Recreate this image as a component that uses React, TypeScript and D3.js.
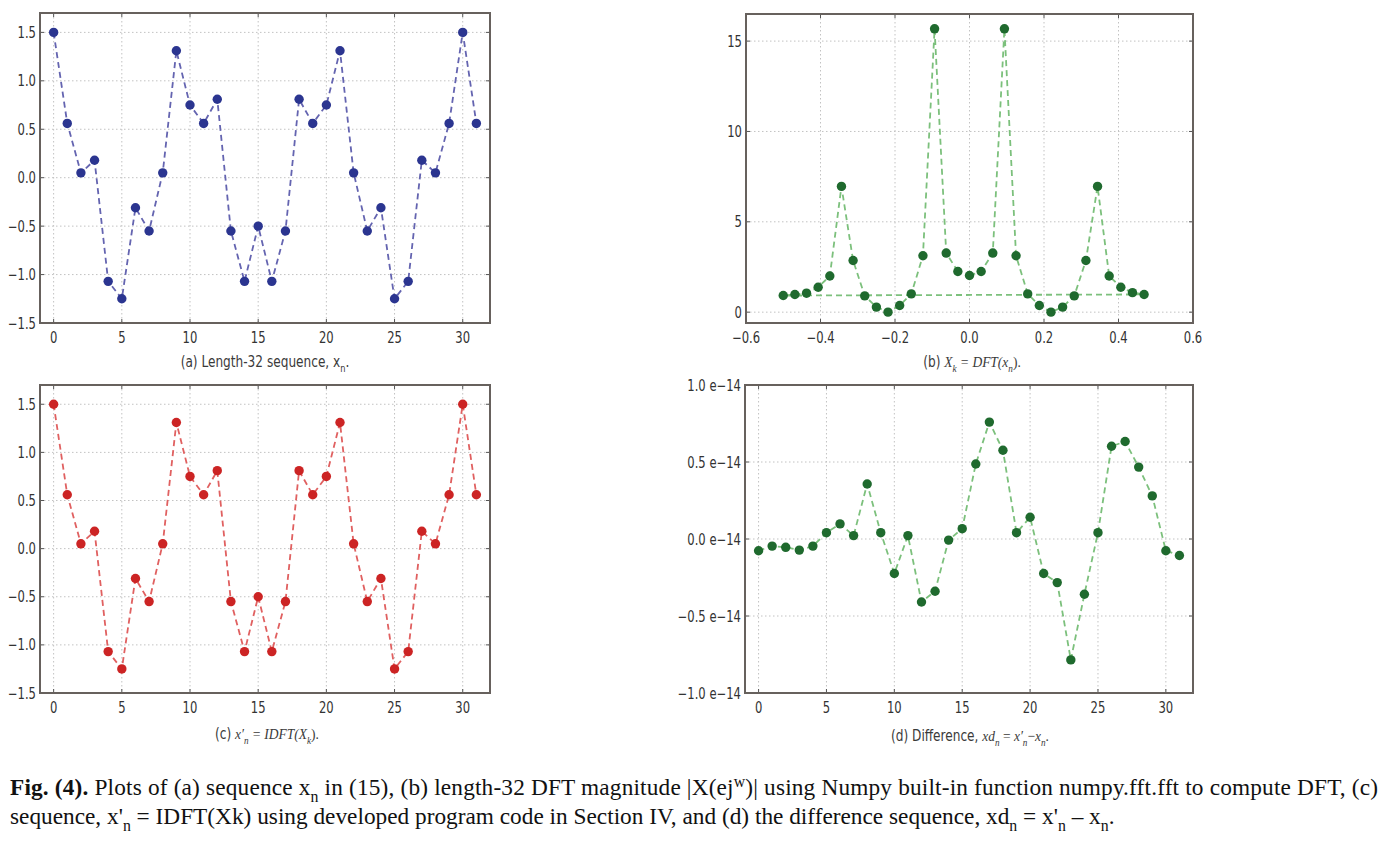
import React, { useEffect, useRef } from "react";
import * as d3 from "d3";

// sample index n
const nIndex = [0, 1, 2, 3, 4, 5, 6, 7, 8, 9, 10, 11, 12, 13, 14, 15, 16, 17, 18, 19, 20, 21, 22, 23, 24, 25, 26, 27, 28, 29, 30, 31];

// (a) x_n
const xSeq = [1.5, 0.56, 0.05, 0.18, -1.07, -1.25, -0.31, -0.55, 0.05, 1.31, 0.75, 0.56, 0.81, -0.55, -1.07, -0.5, -1.07, -0.55, 0.81, 0.56, 0.75, 1.31, 0.05, -0.55, -0.31, -1.25, -1.07, 0.18, 0.05, 0.56, 1.5, 0.56];

// (b) frequencies in fftfreq order and |X_k|
const dftFreq = [0, 0.03125, 0.0625, 0.09375, 0.125, 0.15625, 0.1875, 0.21875, 0.25, 0.28125, 0.3125, 0.34375, 0.375, 0.40625, 0.4375, 0.46875, -0.5, -0.46875, -0.4375, -0.40625, -0.375, -0.34375, -0.3125, -0.28125, -0.25, -0.21875, -0.1875, -0.15625, -0.125, -0.09375, -0.0625, -0.03125];
const dftMag = [2.03, 2.25, 3.27, 15.68, 3.12, 1.01, 0.37, 0.0, 0.28, 0.9, 2.86, 6.96, 2.0, 1.38, 1.08, 0.98, 0.92, 0.98, 1.05, 1.38, 2.0, 6.96, 2.86, 0.9, 0.28, 0.0, 0.37, 1.01, 3.12, 15.68, 3.27, 2.25];

// (c) x'_n = IDFT(X_k)
const xRec = [1.5, 0.56, 0.05, 0.18, -1.07, -1.25, -0.31, -0.55, 0.05, 1.31, 0.75, 0.56, 0.81, -0.55, -1.07, -0.5, -1.07, -0.55, 0.81, 0.56, 0.75, 1.31, 0.05, -0.55, -0.31, -1.25, -1.07, 0.18, 0.05, 0.56, 1.5, 0.56];

// (d) difference xd_n (x 1e-14)
const xDiff = [-0.076, -0.046, -0.054, -0.072, -0.046, 0.041, 0.098, 0.022, 0.357, 0.041, -0.224, 0.022, -0.409, -0.339, -0.007, 0.067, 0.487, 0.759, 0.576, 0.041, 0.141, -0.224, -0.283, -0.785, -0.359, 0.041, 0.602, 0.633, 0.467, 0.28, -0.076, -0.107].map((v) => v * 1e-14);

// tick values
const nTicks = [0, 5, 10, 15, 20, 25, 30];
const seqTicks = [-1.5, -1.0, -0.5, 0.0, 0.5, 1.0, 1.5];
const freqTicks = [-0.6, -0.4, -0.2, 0.0, 0.2, 0.4, 0.6];
const magTicks = [0, 5, 10, 15];
const diffTicks = [-1e-14, -0.5e-14, 0, 0.5e-14, 1e-14];

const SANS = "'DejaVu Sans Condensed', 'DejaVu Sans', sans-serif";
const SERIF = "'Liberation Serif', 'Times New Roman', serif";

type Part = { t: string; it?: boolean; serif?: boolean; sub?: boolean; sup?: boolean; bold?: boolean };

const writeParts = (text, parts: Part[], size: number) => {
  let shift = 0;
  parts.forEach((p) => {
    const ts = text.append("tspan").text(p.t);
    let want = 0;
    if (p.sub) want = size * 0.3;
    if (p.sup) want = -size * 0.35;
    if (want !== shift) {
      ts.attr("dy", want - shift);
      shift = want;
    }
    if (p.sub || p.sup) ts.attr("font-size", size * 0.68);
    if (p.it) ts.attr("font-style", "italic");
    if (p.serif) ts.attr("font-family", SERIF);
    if (p.bold) ts.attr("font-weight", "bold");
  });
};

const minus = (s: string) => s.replace("-", "\u2212");

const App = () => {
  const ref = useRef<SVGSVGElement>(null);

  useEffect(() => {
    drawChart();
  }, []);

  const drawPanel = (svg, p) => {
    const x = d3.scaleLinear().domain(p.xDomain).range([p.left, p.right]);
    const y = d3.scaleLinear().domain(p.yDomain).range([p.bottom, p.top]);
    const g = svg.append("g");

    // dotted grid
    g.selectAll(".gx")
      .data(p.xTicks)
      .enter()
      .append("line")
      .attr("x1", (d) => x(d))
      .attr("x2", (d) => x(d))
      .attr("y1", p.top)
      .attr("y2", p.bottom)
      .attr("stroke", "#c2c2c2")
      .attr("stroke-dasharray", "1.5,2.5");
    g.selectAll(".gy")
      .data(p.yTicks)
      .enter()
      .append("line")
      .attr("x1", p.left)
      .attr("x2", p.right)
      .attr("y1", (d) => y(d))
      .attr("y2", (d) => y(d))
      .attr("stroke", "#c2c2c2")
      .attr("stroke-dasharray", "1.5,2.5");

    // inward ticks on all sides
    const tk = 4;
    p.xTicks.forEach((d) => {
      g.append("line").attr("x1", x(d)).attr("x2", x(d)).attr("y1", p.bottom).attr("y2", p.bottom - tk).attr("stroke", "#555");
      g.append("line").attr("x1", x(d)).attr("x2", x(d)).attr("y1", p.top).attr("y2", p.top + tk).attr("stroke", "#555");
    });
    p.yTicks.forEach((d) => {
      g.append("line").attr("x1", p.left).attr("x2", p.left + tk).attr("y1", y(d)).attr("y2", y(d)).attr("stroke", "#555");
      g.append("line").attr("x1", p.right).attr("x2", p.right - tk).attr("y1", y(d)).attr("y2", y(d)).attr("stroke", "#555");
    });

    // dashed line through points
    const line = d3
      .line<number>()
      .x((d, i) => x(p.xs[i]))
      .y((d) => y(d));
    g.append("path")
      .datum(p.ys)
      .attr("d", line)
      .attr("fill", "none")
      .attr("stroke", p.lineColor)
      .attr("stroke-width", 1.8)
      .attr("stroke-dasharray", "6,4");

    g.selectAll("circle")
      .data(p.ys)
      .enter()
      .append("circle")
      .attr("cx", (d, i) => x(p.xs[i]))
      .attr("cy", (d) => y(d))
      .attr("r", 4.7)
      .attr("fill", p.dotColor);

    // frame
    g.append("rect")
      .attr("x", p.left)
      .attr("y", p.top)
      .attr("width", p.right - p.left)
      .attr("height", p.bottom - p.top)
      .attr("fill", "none")
      .attr("stroke", "#67615d")
      .attr("stroke-width", 2);

    // tick labels (narrow, like the squeezed original)
    g.selectAll(".xl")
      .data(p.xTicks)
      .enter()
      .append("text")
      .attr("transform", (d) => `translate(${x(d)},${p.bottom + 20}) scale(0.86,1)`)
      .attr("text-anchor", "middle")
      .attr("font-family", SANS)
      .attr("font-size", 15)
      .attr("fill", "#333")
      .text((d) => p.xFmt(d));
    g.selectAll(".yl")
      .data(p.yTicks)
      .enter()
      .append("text")
      .attr("transform", (d) => `translate(${p.left - 4},${y(d) + 5.5}) scale(0.86,1)`)
      .attr("text-anchor", "end")
      .attr("font-family", SANS)
      .attr("font-size", 15)
      .attr("fill", "#333")
      .text((d) => p.yFmt(d));

    // subplot caption
    const cap = g
      .append("text")
      .attr("transform", `translate(${p.capX},${p.capY}) scale(0.9,1)`)
      .attr("text-anchor", "middle")
      .attr("font-family", SANS)
      .attr("font-size", 15)
      .attr("fill", "#3a3a3a");
    writeParts(cap, p.caption, 15);
  };

  const drawChart = () => {
    const svg = d3.select(ref.current);
    svg.selectAll("*").remove();

    const fmtSeq = (d) => minus(d3.format(".1f")(d));
    const fmtInt = (d) => String(d);
    const fmtDiff = (d) => minus(d3.format(".1f")(d * 1e14)) + " e\u221214";

    drawPanel(svg, {
      left: 40, top: 13, right: 490, bottom: 323,
      xDomain: [-1, 32], yDomain: [-1.5, 1.7],
      xTicks: nTicks, yTicks: seqTicks, xFmt: fmtInt, yFmt: fmtSeq,
      xs: nIndex, ys: xSeq, lineColor: "#6464b0", dotColor: "#2b3590",
      capX: 265, capY: 367,
      caption: [{ t: "(a) Length-32 sequence, x" }, { t: "n", sub: true }, { t: "." }],
    });

    drawPanel(svg, {
      left: 746, top: 14, right: 1193, bottom: 323,
      xDomain: [-0.6, 0.6], yDomain: [-0.6, 16.5],
      xTicks: freqTicks, yTicks: magTicks, xFmt: fmtSeq, yFmt: fmtInt,
      xs: dftFreq, ys: dftMag, lineColor: "#7cc07c", dotColor: "#1f6a2e",
      capX: 972, capY: 367,
      caption: [
        { t: "(b) " },
        { t: "X", it: true, serif: true },
        { t: "k", it: true, serif: true, sub: true },
        { t: " = DFT(", it: true, serif: true },
        { t: "x", it: true, serif: true },
        { t: "n", it: true, serif: true, sub: true },
        { t: ").", serif: true },
      ],
    });

    drawPanel(svg, {
      left: 40, top: 385, right: 490, bottom: 693,
      xDomain: [-1, 32], yDomain: [-1.5, 1.7],
      xTicks: nTicks, yTicks: seqTicks, xFmt: fmtInt, yFmt: fmtSeq,
      xs: nIndex, ys: xRec, lineColor: "#e06060", dotColor: "#cc2424",
      capX: 267, capY: 739,
      caption: [
        { t: "(c) " },
        { t: "x\u2032", it: true, serif: true },
        { t: "n", it: true, serif: true, sub: true },
        { t: " = IDFT(", it: true, serif: true },
        { t: "X", it: true, serif: true },
        { t: "k", it: true, serif: true, sub: true },
        { t: ").", serif: true },
      ],
    });

    drawPanel(svg, {
      left: 745, top: 385, right: 1193, bottom: 693,
      xDomain: [-1, 32], yDomain: [-1e-14, 1e-14],
      xTicks: nTicks, yTicks: diffTicks, xFmt: fmtInt, yFmt: fmtDiff,
      xs: nIndex, ys: xDiff, lineColor: "#7cc07c", dotColor: "#1f6a2e",
      capX: 970, capY: 741,
      caption: [
        { t: "(d) Difference, " },
        { t: "xd", it: true, serif: true },
        { t: "n", it: true, serif: true, sub: true },
        { t: " = ", serif: true },
        { t: "x\u2032", it: true, serif: true },
        { t: "n", it: true, serif: true, sub: true },
        { t: "\u2212", serif: true },
        { t: "x", it: true, serif: true },
        { t: "n", it: true, serif: true, sub: true },
        { t: ".", serif: true },
      ],
    });

    // figure caption
    const l1 = svg
      .append("text")
      .attr("x", 10)
      .attr("y", 795)
      .attr("font-family", SERIF)
      .attr("font-size", 23.3)
      .attr("fill", "#111")
      .attr("textLength", 1368)
      .attr("lengthAdjust", "spacing");
    writeParts(l1, [
      { t: "Fig. (4).", bold: true },
      { t: " Plots of (a) sequence x" },
      { t: "n", sub: true },
      { t: " in (15), (b) length-32 DFT magnitude |X(ej" },
      { t: "w", sup: true },
      { t: ")| using Numpy built-in function numpy.fft.fft to compute DFT, (c)" },
    ], 23.3);

    const l2 = svg
      .append("text")
      .attr("x", 10)
      .attr("y", 824)
      .attr("font-family", SERIF)
      .attr("font-size", 23.3)
      .attr("fill", "#111");
    writeParts(l2, [
      { t: "sequence, x'" },
      { t: "n", sub: true },
      { t: " = IDFT(Xk) using developed program code in Section IV, and (d) the difference sequence, xd" },
      { t: "n", sub: true },
      { t: " = x'" },
      { t: "n", sub: true },
      { t: " \u2013 x" },
      { t: "n", sub: true },
      { t: "." },
    ], 23.3);
  };

  return (
    <svg
      ref={ref}
      width={1384}
      height={854}
      style={{ position: "absolute", left: 0, top: 0, background: "#fff" }}
    ></svg>
  );
};

export default App;
